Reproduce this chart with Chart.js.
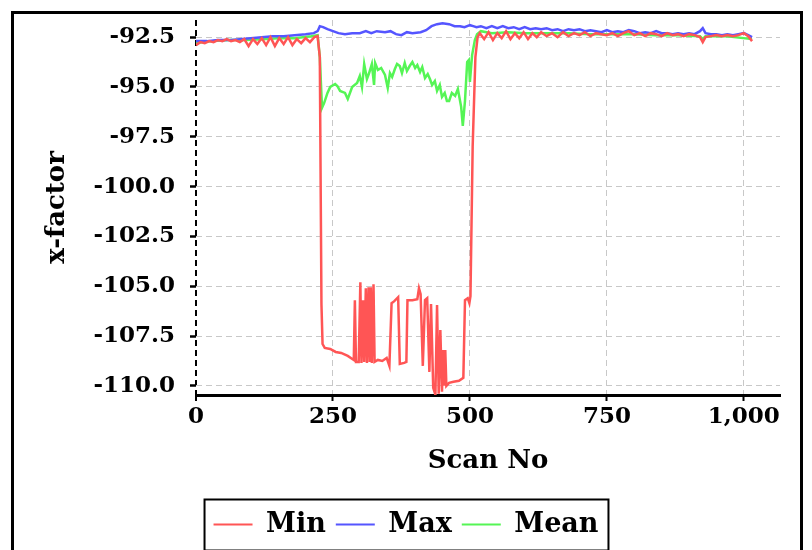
<!DOCTYPE html>
<html>
<head>
<meta charset="utf-8">
<script src="https://cdn.jsdelivr.net/npm/chart.js@4/dist/chart.umd.min.js"></script>
<style>
  body { margin: 0; background: #fff; }
  canvas { display: block; }
</style>
</head>
<body>
<canvas id="scan-chart" width="812" height="550"></canvas>
<script>
// values: scan number and x-factor per series
var minScan = [0, 8, 16, 24, 32, 40, 48, 56, 64, 72, 80, 88, 96, 104, 112, 120, 128, 136, 144, 152,
  160, 168, 176, 184, 192, 200, 208, 216, 222, 226, 229, 231, 235, 245, 255, 265, 277, 288, 290, 292,
  297, 300, 302, 305, 307, 310, 312, 315, 317, 319, 321, 324, 326, 332, 340, 348, 353, 357, 362, 369,
  372, 380, 384, 386, 395, 404, 407, 410, 414, 418, 422, 426, 429, 433, 437, 440, 443, 446, 449, 451,
  453, 455, 457, 462, 470, 480, 488, 491, 496, 499, 501, 505, 510, 514, 518, 526, 534, 542, 550, 558,
  566, 574, 582, 590, 598, 606, 614, 622, 630, 640, 650, 660, 670, 680, 690, 700, 710, 720, 730, 740,
  750, 760, 770, 780, 790, 800, 810, 820, 830, 840, 850, 860, 870, 880, 890, 900, 910, 920, 925, 930,
  940, 950, 960, 970, 980, 990, 1000, 1008, 1015];
var minVal = [-92.9, -92.75, -92.8, -92.7, -92.75, -92.65, -92.7, -92.6, -92.7, -92.65, -92.75, -92.6, -92.95, -92.6, -92.85, -92.55, -92.9, -92.5, -92.95, -92.55,
  -92.85, -92.5, -92.9, -92.6, -92.8, -92.55, -92.75, -92.5, -92.45, -93.5, -105.9, -107.9, -108.1, -108.15, -108.3, -108.35, -108.5, -108.7, -105.7, -108.8,
  -108.8, -104.8, -108.85, -105.7, -108.8, -105.1, -108.85, -105.05, -108.8, -105.05, -108.85, -104.9, -108.8, -108.7, -108.75, -108.6, -109.0, -105.85, -105.75, -105.55,
  -108.9, -108.85, -108.8, -105.7, -105.7, -105.65, -105.1, -105.4, -109.0, -105.7, -105.6, -109.3, -105.9, -110.1, -110.45, -105.95, -110.4, -107.2, -110.3, -108.2,
  -110.0, -108.2, -110.0, -109.85, -109.8, -109.75, -109.6, -105.7, -105.6, -105.85, -105.5, -98.0, -93.5, -92.5, -92.3, -92.6, -92.25, -92.65, -92.3, -92.55,
  -92.2, -92.6, -92.3, -92.55, -92.25, -92.6, -92.3, -92.5, -92.25, -92.45, -92.3, -92.5, -92.25, -92.45, -92.3, -92.4, -92.25, -92.45, -92.3, -92.35,
  -92.4, -92.3, -92.45, -92.3, -92.2, -92.4, -92.3, -92.45, -92.3, -92.35, -92.45, -92.3, -92.4, -92.35, -92.45, -92.35, -92.4, -92.5, -92.75, -92.5,
  -92.45, -92.4, -92.45, -92.4, -92.45, -92.4, -92.3, -92.45, -92.7];

var maxScan = [0, 20, 40, 60, 80, 100, 120, 140, 160, 180, 200, 215, 222, 226, 232, 240, 250, 260, 272, 285,
  299, 310, 320, 330, 345, 355, 365, 375, 385, 395, 410, 420, 430, 440, 450, 462, 472, 482, 490, 500,
  506, 512, 520, 530, 540, 550, 560, 570, 580, 590, 600, 610, 620, 630, 640, 650, 660, 670, 680, 690,
  700, 710, 720, 730, 740, 750, 760, 770, 780, 790, 800, 810, 820, 830, 840, 850, 860, 870, 880, 890,
  900, 910, 920, 925, 930, 940, 950, 960, 970, 980, 990, 1000, 1008, 1015];
var maxVal = [-92.7, -92.7, -92.65, -92.65, -92.6, -92.55, -92.5, -92.45, -92.45, -92.4, -92.35, -92.3, -92.2, -91.95, -92.0, -92.1, -92.2, -92.3, -92.35, -92.3,
  -92.3, -92.2, -92.3, -92.2, -92.25, -92.2, -92.35, -92.4, -92.25, -92.3, -92.25, -92.15, -91.95, -91.85, -91.8, -91.85, -91.95, -91.95, -92.0, -91.9,
  -91.95, -92.0, -91.95, -92.05, -91.95, -92.05, -91.95, -92.05, -92.0, -92.1, -92.0, -92.1, -92.05, -92.1, -92.05, -92.15, -92.1, -92.2, -92.1, -92.15,
  -92.1, -92.2, -92.15, -92.2, -92.25, -92.15, -92.25, -92.2, -92.25, -92.15, -92.2, -92.3, -92.25, -92.3, -92.2, -92.3, -92.3, -92.35, -92.3, -92.35,
  -92.3, -92.35, -92.2, -92.05, -92.3, -92.35, -92.35, -92.4, -92.35, -92.4, -92.35, -92.3, -92.4, -92.5];

var meanScan = [0, 30, 60, 90, 120, 150, 180, 210, 222, 226, 230, 234, 240, 245, 254, 258, 263, 272, 277, 285,
  294, 299, 303, 307, 312, 316, 321, 325, 327, 332, 338, 345, 350, 354, 358, 363, 367, 372, 376, 381,
  385, 390, 395, 400, 404, 409, 413, 418, 423, 427, 431, 436, 440, 445, 449, 454, 458, 462, 467, 473,
  478, 484, 487, 491, 495, 498, 500, 504, 509, 513, 520, 540, 570, 600, 640, 680, 720, 760, 800, 840,
  880, 920, 925, 930, 970, 1015];
var meanVal = [-92.8, -92.7, -92.65, -92.65, -92.6, -92.55, -92.55, -92.45, -92.4, -93.5, -96.05, -95.8, -95.3, -95.0, -94.85, -94.95, -95.2, -95.3, -95.6, -95.0,
  -94.8, -94.45, -95.0, -93.85, -94.6, -94.3, -93.85, -94.9, -93.8, -94.15, -94.05, -94.4, -95.05, -94.3, -94.5, -94.1, -93.85, -93.95, -94.3, -93.8,
  -94.2, -93.95, -93.75, -94.05, -93.9, -94.25, -94.0, -94.55, -94.35, -94.6, -94.9, -94.7, -95.2, -94.9, -95.5, -95.3, -95.7, -95.7, -95.3, -95.45,
  -95.1, -96.0, -96.95, -95.7, -93.75, -93.65, -94.75, -93.4, -92.65, -92.35, -92.2, -92.3, -92.25, -92.3, -92.3, -92.3, -92.35, -92.35, -92.35, -92.4,
  -92.4, -92.45, -92.6, -92.45, -92.45, -92.6];

var seriesNames = ["Min", "Max", "Mean"];
var seriesColors = ["rgb(255, 85, 85)", "rgb(85, 85, 255)", "rgb(85, 245, 85)"];
var xTickStep = 250;
var yTickStep = 2.5;

var toPoints = function (scans, vals) {
  return scans.map(function (s, i) { return { x: s, y: vals[i] }; });
};

var FONT = "'DejaVu Serif', serif";

// outer frame of the figure and the frame round the legend
var framePlugin = {
  id: 'frames',
  afterDraw: function (chart) {
    var ctx = chart.ctx;
    ctx.save();
    ctx.strokeStyle = '#000';
    ctx.lineWidth = 3;
    ctx.strokeRect(12.5, 12.5, 789, 560);
    var boxes = chart.legend && chart.legend.legendHitBoxes;
    if (boxes && boxes.length) {
      var first = boxes[0], last = boxes[boxes.length - 1];
      var cy = first.top + first.height / 2;
      ctx.lineWidth = 2;
      ctx.strokeRect(first.left - 9, cy - 25, last.left + last.width - first.left + 19, 51);
    }
    ctx.restore();
  }
};

var datasets = [
  toPoints(minScan, minVal),
  toPoints(maxScan, maxVal),
  toPoints(meanScan, meanVal)
].map(function (pts, i) {
  return {
    label: seriesNames[i],
    data: pts,
    borderColor: seriesColors[i],
    backgroundColor: seriesColors[i],
    borderWidth: 2.5,
    pointRadius: 0,
    tension: 0
  };
});

var ctx = document.getElementById("scan-chart").getContext("2d");
var chart = new Chart(ctx, {
  type: 'line',
  data: { datasets: datasets },
  plugins: [framePlugin],
  options: {
    responsive: false,
    animation: false,
    devicePixelRatio: 1,
    layout: { padding: { top: 20, right: 14, bottom: 2, left: 14 } },
    plugins: {
      tooltip: { enabled: false },
      legend: {
        display: true,
        position: 'bottom',
        labels: {
          color: '#000',
          font: { family: FONT, size: 27, weight: 'bold' },
          boxWidth: 39,
          boxHeight: 2,
          padding: 10,
          generateLabels: function (chart) {
            return chart.data.datasets.map(function (ds, i) {
              return { text: ds.label, fillStyle: ds.borderColor, strokeStyle: ds.borderColor,
                       lineWidth: 0, fontColor: '#000', datasetIndex: i, hidden: false };
            });
          }
        }
      }
    },
    scales: {
      x: {
        type: 'linear',
        min: 0,
        max: 1066,
        afterFit: function (s) { s.height = 106; },
        border: { display: true, color: '#000', width: 3, dash: [6, 4] },
        grid: {
          color: function (c) { return c.tick && c.tick.value === 0 ? '#000' : '#c8c8c8'; },
          lineWidth: function (c) { return c.tick && c.tick.value === 0 ? 2 : 1; },
          tickColor: '#000',
          tickBorderDash: [],
          tickWidth: 2,
          tickLength: 6
        },
        ticks: {
          stepSize: xTickStep,
          includeBounds: false,
          color: '#000',
          padding: 2,
          maxRotation: 0,
          font: { family: FONT, size: 23, weight: 'bold' }
        },
        title: {
          display: true,
          text: 'Scan No',
          color: '#000',
          padding: { top: 0, bottom: 24 },
          font: { family: FONT, size: 26, weight: 'bold' }
        }
      },
      y: {
        min: -110.46,
        max: -91.64,
        afterFit: function (s) { s.width = 182; s.paddingTop = 0; s.paddingBottom = 0; },
        border: { display: false, dash: [6, 4] },
        grid: {
          color: '#c8c8c8',
          tickColor: '#000',
          tickBorderDash: [],
          tickWidth: 2.5,
          tickLength: 6
        },
        ticks: {
          stepSize: yTickStep,
          includeBounds: false,
          color: '#000',
          padding: 15,
          font: { family: FONT, size: 23, weight: 'bold' },
          callback: function (v) { return v.toFixed(1); }
        },
        title: {
          display: true,
          text: 'x-factor',
          color: '#000',
          padding: { top: 28, bottom: 0 },
          font: { family: FONT, size: 26, weight: 'bold' }
        }
      },
      // empty right-hand axis: keeps the plot clear of the right frame
      yRight: {
        position: 'right',
        display: true,
        afterFit: function (s) { s.width = 18; },
        border: { display: false },
        grid: { display: false },
        ticks: { display: false }
      }
    }
  }
});
</script>
</body>
</html>
